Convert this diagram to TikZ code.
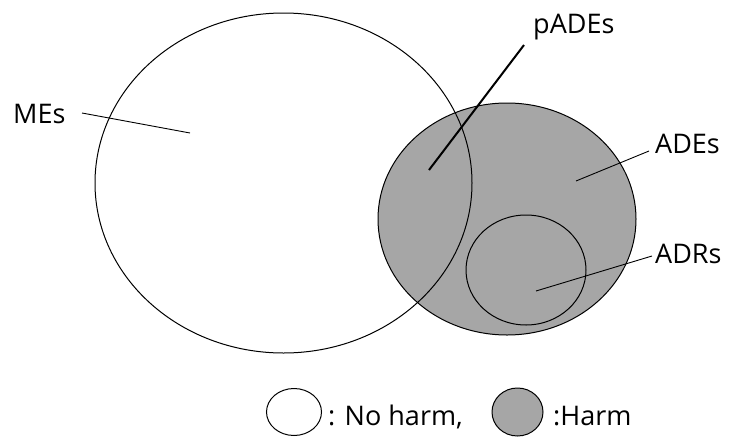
\documentclass[tikz,border=0pt]{standalone}
\usepackage{fontspec}
\setmainfont{Open Sans}
\usetikzlibrary{shapes.geometric}
\definecolor{harm}{RGB}{166,166,166}
\begin{document}
\begin{tikzpicture}[x=1pt,y=-1pt,
  setshape/.style={ellipse,draw,line width=1pt,inner sep=0pt},
  lbl/.style={font=\fontsize{27}{31}\selectfont,inner sep=0pt,anchor=base west},
  lead/.style={line width=0.9pt},
  boldlead/.style={line width=2pt}]
\useasboundingbox (0,0) rectangle (729,437);
% sets
\node[setshape,fill=harm,minimum width=258pt,minimum height=232pt] (ades) at (507,219) {};
\node[setshape,minimum width=377pt,minimum height=340pt] (mes) at (283.5,183) {};
\node[setshape,minimum width=120pt,minimum height=110pt] (adrs) at (526,270) {};
% labels
\node[lbl] (tmes) at (13,123) {MEs};
\node[lbl] (tpades) at (533,33) {pADEs};
\node[lbl] (tades) at (655,153) {ADEs};
\node[lbl] (tadrs) at (655,263) {ADRs};
% leader end points
\coordinate (mesA) at (82,113);
\coordinate (mesB) at (190,133);
\coordinate (padA) at (524,45);
\coordinate (padB) at (429,170);
\coordinate (adeA) at (649,151);
\coordinate (adeB) at (576,181);
\coordinate (adrA) at (652,256);
\coordinate (adrB) at (536,291);
\draw[lead] (mesA) -- (mesB);
\draw[boldlead] (padA) -- (padB);
\draw[lead] (adeA) -- (adeB);
\draw[lead] (adrA) -- (adrB);
% legend
\node[setshape,minimum width=55pt,minimum height=47pt] (lnoharm) at (294,412) {};
\node[lbl] (tnoharm) at (328,425) {: No harm,};
\node[setshape,fill=harm,minimum width=51pt,minimum height=48pt] (lharm) at (517.5,412) {};
\node[lbl] (tharm) at (553,425) {:Harm};
\end{tikzpicture}
\end{document}
